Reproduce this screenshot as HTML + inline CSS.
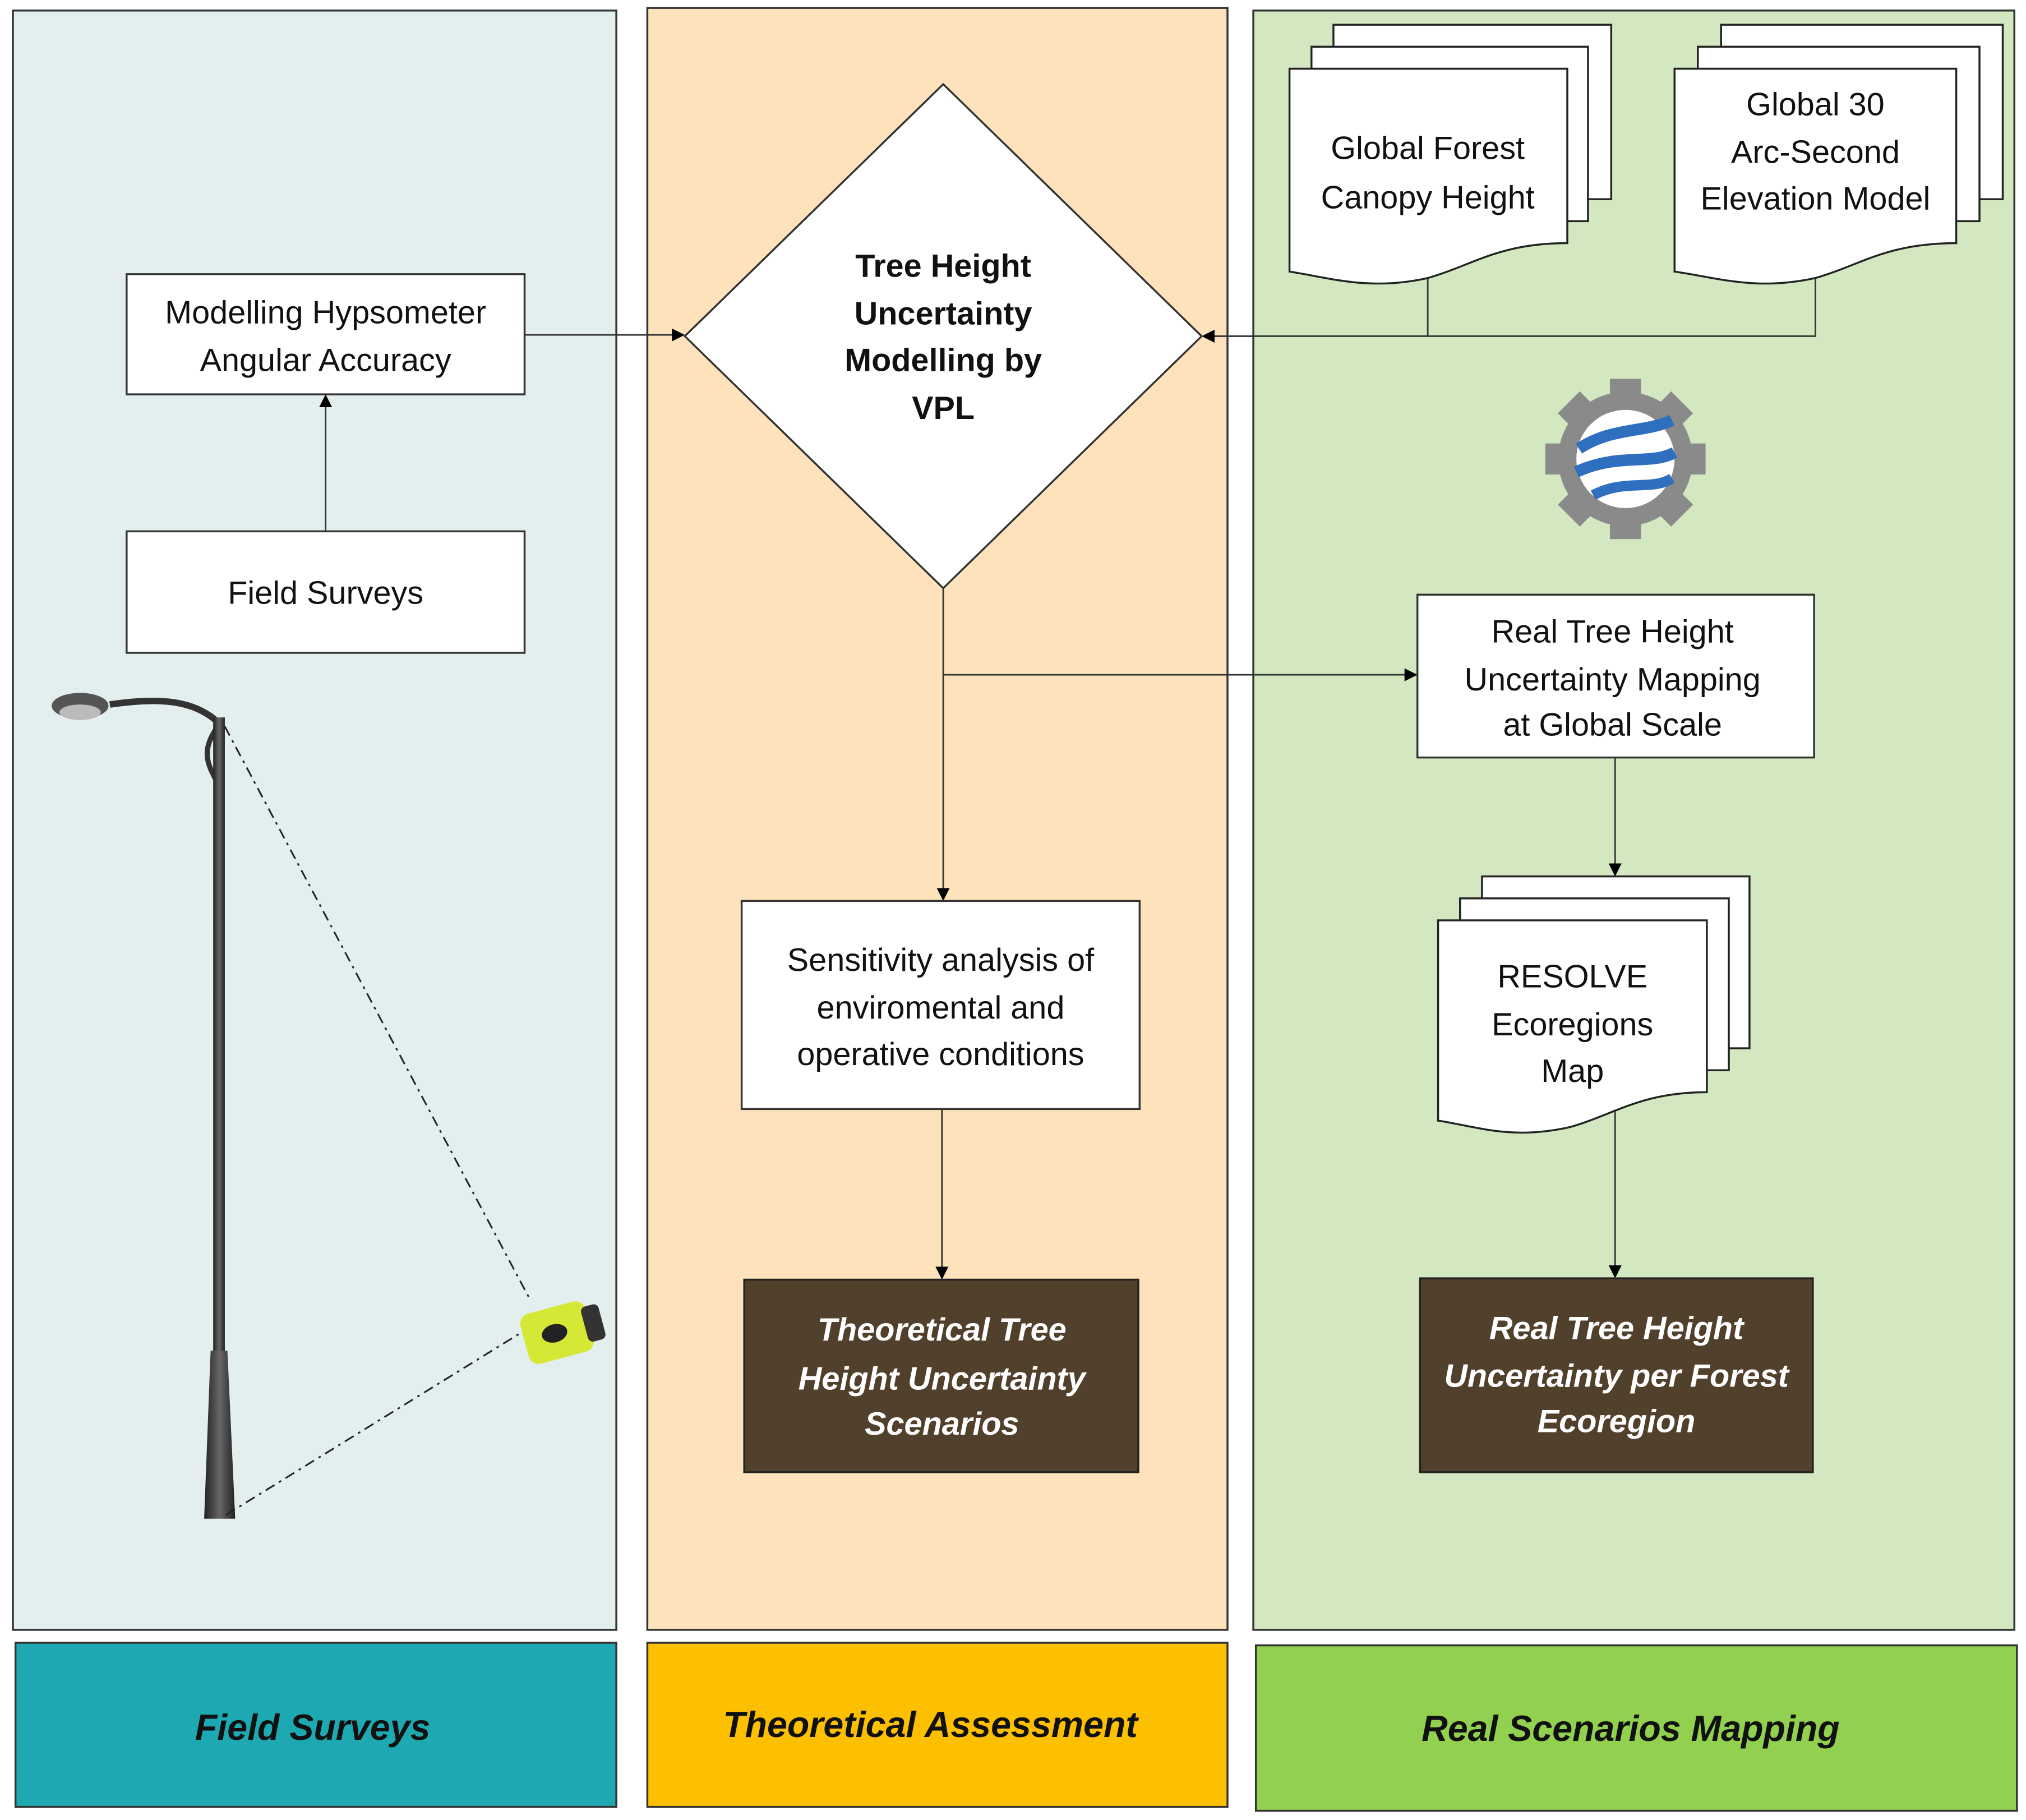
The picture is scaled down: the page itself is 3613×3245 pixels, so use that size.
<!DOCTYPE html>
<html><head><meta charset="utf-8"><style>
html,body{margin:0;padding:0;background:#fff;}
svg{display:block;}
text{font-family:"Liberation Sans",sans-serif;}
</style></head><body>
<svg width="3613" height="3245" viewBox="0 0 1568 1408" xmlns="http://www.w3.org/2000/svg">
<defs>
<marker id="ar" markerWidth="10" markerHeight="10" refX="9" refY="5" orient="auto" markerUnits="userSpaceOnUse"><path d="M0,0 L10,5 L0,10 z" fill="#000"/></marker>
<linearGradient id="pole" x1="0" x2="1"><stop offset="0" stop-color="#222"/><stop offset="0.5" stop-color="#666"/><stop offset="1" stop-color="#222"/></linearGradient>
</defs>
<rect x="0" y="0" width="1568" height="1408" fill="#fff"/>
<!-- panels -->
<rect x="10" y="8" width="467" height="1253" fill="#e2efee" stroke="#333" stroke-width="1.5"/>
<rect x="501" y="6" width="449" height="1255" fill="#fde2bb" stroke="#333" stroke-width="1.5"/>
<rect x="970" y="8" width="589" height="1253" fill="#d3e8c0" stroke="#333" stroke-width="1.5"/>
<!-- bottom bars -->
<rect x="12" y="1271" width="465" height="127" fill="#1ea8b1" stroke="#333" stroke-width="1.5"/>
<rect x="501" y="1271" width="449" height="127" fill="#fdc000" stroke="#333" stroke-width="1.5"/>
<rect x="972" y="1273" width="589" height="128" fill="#92d050" stroke="#333" stroke-width="1.5"/>
<g font-size="28" font-weight="bold" font-style="italic" text-anchor="middle" fill="#111">
<text x="242" y="1346">Field Surveys</text>
<text x="720" y="1344">Theoretical Assessment</text>
<text x="1262" y="1347">Real Scenarios Mapping</text>
</g>
<!-- connectors -->
<g stroke="#333" stroke-width="1.2" fill="none">
<line x1="406" y1="259" x2="529" y2="259" marker-end="url(#ar)"/>
<line x1="252" y1="411" x2="252" y2="306" marker-end="url(#ar)"/>
<polyline points="1105,212 1105,260"/>
<polyline points="1405,212 1405,260 931,260" marker-end="url(#ar)"/>
<line x1="730" y1="455" x2="730" y2="696" marker-end="url(#ar)"/>
<line x1="730" y1="522" x2="1096" y2="522" marker-end="url(#ar)"/>
<line x1="729" y1="858" x2="729" y2="989" marker-end="url(#ar)"/>
<line x1="1250" y1="586" x2="1250" y2="677" marker-end="url(#ar)"/>
<line x1="1250" y1="856" x2="1250" y2="988" marker-end="url(#ar)"/>
</g>
<!-- boxes -->
<g fill="#fff" stroke="#333" stroke-width="1.5">
<rect x="98" y="212" width="308" height="93"/>
<rect x="98" y="411" width="308" height="94"/>
<polygon points="730,65 930,260 730,455 530,260"/>
<rect x="574" y="697" width="308" height="161"/>
<rect x="1097" y="460" width="307" height="126"/>
</g>
<rect x="576" y="990" width="305" height="149" fill="#51402b" stroke="#222" stroke-width="1.5"/>
<rect x="1099" y="989" width="304" height="150" fill="#51402b" stroke="#222" stroke-width="1.5"/>
<!-- documents -->
<g fill="#fff" stroke="#222" stroke-width="1.5">
<rect x="1032" y="19" width="215" height="135"/>
<rect x="1015" y="36" width="214" height="135"/>
<path d="M998,53 H1213 V188 C1160,188 1140,205 1105,215 C1060,225 1030,215 998,210 Z"/>
<rect x="1332" y="19" width="218" height="135"/>
<rect x="1314" y="36" width="218" height="135"/>
<path d="M1296,53 H1514 V188 C1460,188 1440,205 1405,215 C1360,225 1330,215 1296,210 Z"/>
<rect x="1147" y="678" width="207" height="133"/>
<rect x="1130" y="695" width="208" height="133"/>
<path d="M1113,712 H1321 V845 C1270,845 1250,862 1215,872 C1170,882 1145,872 1113,867 Z"/>
</g>
<!-- text -->
<g font-size="25" text-anchor="middle" fill="#111">
<text x="252" y="250">Modelling Hypsometer</text>
<text x="252" y="287">Angular Accuracy</text>
<text x="252" y="467">Field Surveys</text>
<text x="728" y="751">Sensitivity analysis of</text>
<text x="728" y="788">enviromental and</text>
<text x="728" y="824">operative conditions</text>
<text x="1248" y="497">Real Tree Height</text>
<text x="1248" y="534">Uncertainty Mapping</text>
<text x="1248" y="569">at Global Scale</text>
<text x="1105" y="123">Global Forest</text>
<text x="1105" y="161">Canopy Height</text>
<text x="1405" y="89">Global 30</text>
<text x="1405" y="126">Arc-Second</text>
<text x="1405" y="162">Elevation Model</text>
<text x="1217" y="764">RESOLVE</text>
<text x="1217" y="801">Ecoregions</text>
<text x="1217" y="837">Map</text>
</g>
<g font-size="25" font-weight="bold" text-anchor="middle" fill="#111">
<text x="730" y="214">Tree Height</text>
<text x="730" y="251">Uncertainty</text>
<text x="730" y="287">Modelling by</text>
<text x="730" y="324">VPL</text>
</g>
<g font-size="25" font-weight="bold" font-style="italic" text-anchor="middle" fill="#fff">
<text x="729" y="1037">Theoretical Tree</text>
<text x="729" y="1075">Height Uncertainty</text>
<text x="729" y="1110">Scenarios</text>
<text x="1251" y="1036">Real Tree Height</text>
<text x="1251" y="1073">Uncertainty per Forest</text>
<text x="1251" y="1108">Ecoregion</text>
</g>
<!-- gear icon -->
<g transform="translate(1258,355)">
<g fill="#8a8a8a">
<circle r="52"/>
<g id="t"><rect x="-12" y="-62" width="24" height="20"/></g>
<use href="#t" transform="rotate(45)"/><use href="#t" transform="rotate(90)"/><use href="#t" transform="rotate(135)"/>
<use href="#t" transform="rotate(180)"/><use href="#t" transform="rotate(225)"/><use href="#t" transform="rotate(270)"/><use href="#t" transform="rotate(315)"/>
</g>
<circle r="38" fill="#fff"/>
<path d="M-36,-8 C-10,-25 15,-20 36,-30" stroke="#2f6fbf" stroke-width="9" fill="none"/>
<path d="M-38,10 C-5,-5 20,5 38,-5" stroke="#2f6fbf" stroke-width="9" fill="none"/>
<path d="M-25,28 C0,15 20,25 36,15" stroke="#2f6fbf" stroke-width="8" fill="none"/>
</g>
<!-- lamp post -->
<path d="M170,560 C150,540 120,540 85,545" stroke="#333" stroke-width="5" fill="none"/>
<path d="M168,605 C160,590 155,580 170,560" stroke="#333" stroke-width="4" fill="none"/>
<ellipse cx="62" cy="546" rx="22" ry="10" fill="#555"/>
<ellipse cx="62" cy="551" rx="16" ry="6" fill="#bbb"/>
<rect x="165" y="555" width="9" height="495" fill="url(#pole)"/>
<polygon points="163,1045 176,1045 182,1175 158,1175" fill="url(#pole)"/>
<!-- dashed lines -->
<g stroke="#222" stroke-width="1.3" stroke-dasharray="8,4,2,4" fill="none">
<line x1="174" y1="562" x2="410" y2="1005"/>
<line x1="175" y1="1172" x2="405" y2="1030"/>
</g>
<!-- rangefinder -->
<g transform="translate(435,1030) rotate(-15)">
<rect x="-30" y="-20" width="52" height="40" rx="8" fill="#d6e836"/>
<rect x="18" y="-14" width="14" height="28" rx="4" fill="#333"/>
<ellipse cx="-6" cy="0" rx="10" ry="7" fill="#222"/>
</g>
</svg>
</body></html>
